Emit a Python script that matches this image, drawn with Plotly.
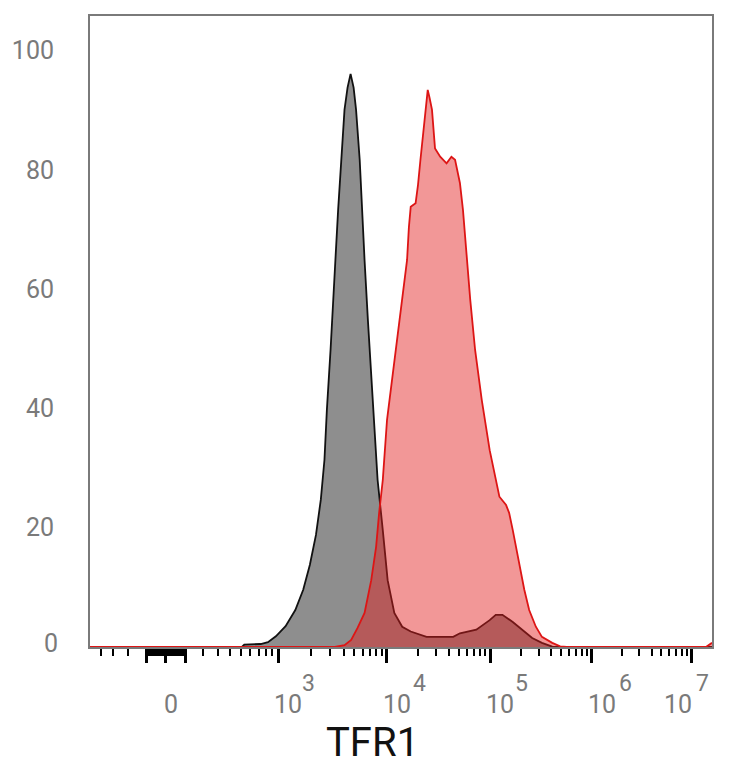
import numpy as np
import plotly.graph_objects as go

# ---------------- data (display channels 0-1024 on a biexponential axis, % of max) -------------
control_channel = [0, 250, 254, 281, 293, 306, 322, 338, 351, 362, 372, 380, 386, 390, 396, 401,
                   404, 408.5, 414, 419, 424, 429, 434, 438, 444, 447.5, 452, 457.5, 465, 470,
                   473.5, 482, 490, 501, 514, 528, 554, 598, 609, 636, 658, 668, 679, 696, 712,
                   728, 744, 761, 777, 1024]
control_pct = [0, 0, 0.4, 0.5, 0.8, 1.8, 3.5, 6.2, 9.6, 13.8, 18.8, 24.7, 31.4, 39.8, 49.8, 58.2,
               64.9, 73.3, 81.7, 90.1, 93.8, 96.1, 93.8, 90.1, 81.7, 73.3, 64.9, 54.8, 41.4, 33.0,
               28.0, 19.6, 11.2, 5.7, 3.4, 2.6, 1.7, 1.7, 2.3, 2.9, 4.5, 5.4, 5.4, 4.2, 2.9,
               1.5, 0.7, 0.05, 0, 0]

tfr1_channel = [0, 403, 419, 430, 440.5, 452, 463, 471, 476, 482, 489, 499, 509, 517, 522, 525,
                528, 536, 540, 544, 548, 552, 556, 559, 563, 568, 576.5, 587, 595, 601, 609, 614,
                620, 626, 634, 645, 658, 668, 674, 685, 690, 696, 701, 707, 715, 723, 734, 744,
                761, 774, 785, 1014, 1019, 1024]
tfr1_pct = [0, 0, 0.3, 1.2, 3.2, 5.7, 11.2, 16.8, 22.5, 28.0, 38.1, 46.5, 54.8, 60.7, 64.9, 70.4,
            73.8, 74.4, 77.5, 81.7, 85.9, 90.1, 93.4, 92.1, 90.1, 83.6, 82.2, 81.1, 82.2, 81.7,
            77.8, 73.3, 64.9, 58.2, 49.8, 41.4, 33.0, 28.0, 25.2, 23.8, 22.5, 19.6, 16.8, 13.5,
            9.6, 6.2, 3.4, 1.7, 0.7, 0.1, 0, 0, 0.4, 0.7]

# axis definition (biexponential display)
decade_exponents = [3, 4, 5, 6, 7]
decade_channels = [309.6, 488.8, 658.8, 825.7, 989.9]
zero_channel = 124.3
linear_width = 290.0
linear_scale = 94.9

x_label_values = [0, 1e3, 1e4, 1e5, 1e6, 1e7]
x_label_base = ["0", "10", "10", "10", "10", "10"]
x_label_exp = ["", "3", "4", "5", "6", "7"]

y_tick_values = [20, 40, 60, 80, 100]
y_tick_text = ["20", "40", "60", "80", "100"]
x_title = "TFR1"


def to_channel(v):
    if abs(v) < 1000:
        return zero_channel + linear_scale * np.arcsinh(v / linear_width)
    return float(np.interp(np.log10(v), decade_exponents, decade_channels))


major_values = [-100, 0, 100, 1e3, 1e4, 1e5, 1e6, 1e7]
minor_values = [-400, -300, -200] + [s * k for s in (-1, 1) for k in range(10, 100, 10)] + \
               list(range(200, 1000, 100)) + [k * 10 ** d for d in range(3, 7) for k in range(2, 10)]

major_ch = [to_channel(v) for v in major_values]
minor_ch = [to_channel(v) for v in minor_values]

GRAY_TXT = "#7a7a7a"
FONT = "Roboto"

fig = go.Figure()
fig.add_trace(go.Scatter(x=control_channel, y=control_pct, mode="lines", fill="tozeroy",
                         fillcolor="#8e8e8e", line=dict(color="#111111", width=1.8),
                         showlegend=False, hoverinfo="skip"))
fig.add_trace(go.Scatter(x=tfr1_channel, y=tfr1_pct, mode="lines", fill="tozeroy",
                         fillcolor="rgba(226,28,28,0.46)", line=dict(color="#dd1515", width=1.8),
                         showlegend=False, hoverinfo="skip"))

fig.update_xaxes(range=[0, 1024], showgrid=False, zeroline=False,
                 showline=True, mirror=True, linecolor="#7a7a7a", linewidth=2,
                 ticks="outside", ticklen=14, tickwidth=3, tickcolor="black",
                 tickmode="array", tickvals=major_ch, showticklabels=False,
                 minor=dict(tickmode="array", tickvals=minor_ch, ticks="outside",
                            ticklen=7, tickwidth=1.6, tickcolor="black", showgrid=False))
fig.update_yaxes(range=[0, 105.8], showgrid=False, zeroline=False,
                 showline=True, mirror=True, linecolor="#7a7a7a", linewidth=2,
                 ticks="outside", ticklen=29, tickcolor="rgba(0,0,0,0)",
                 tickmode="array", tickvals=y_tick_values, ticktext=y_tick_text,
                 tickfont=dict(family=FONT, size=25, color=GRAY_TXT))

annotations = []
# y "0" label nudged up like the original
annotations.append(dict(text="0", xref="paper", x=0, xanchor="right", xshift=-30,
                        yref="y", y=0, yanchor="middle", yshift=4, showarrow=False,
                        font=dict(family=FONT, size=25, color=GRAY_TXT)))
base_shift = [-4, -6, -6, -6, -6, -29]
exp_shift = [0, 22, 24, 23, 25, 3]
for v, b, e, bs, es in zip(x_label_values, x_label_base, x_label_exp, base_shift, exp_shift):
    c = to_channel(v)
    annotations.append(dict(text=b, xref="x", x=c, xanchor="left", xshift=bs,
                            yref="paper", y=0, yanchor="middle", yshift=-57, showarrow=False,
                            font=dict(family=FONT, size=25, color=GRAY_TXT)))
    if e:
        annotations.append(dict(text=e, xref="x", x=c, xanchor="left", xshift=es,
                                yref="paper", y=0, yanchor="middle", yshift=-36, showarrow=False,
                                font=dict(family=FONT, size=23, color=GRAY_TXT)))
annotations.append(dict(text=x_title, xref="paper", x=(368 - 82) / 630, xanchor="center",
                        yref="paper", y=0, yanchor="middle", yshift=-95, showarrow=False,
                        font=dict(family=FONT, size=40, color="#111111")))

fig.update_layout(width=734, height=768, margin=dict(l=82, r=22, t=16, b=121),
                  plot_bgcolor="white", paper_bgcolor="white", annotations=annotations)

fig.write_html("out.html", config={"displayModeBar": False},
               post_script="document.body.style.margin='0';document.body.style.overflow='hidden';")
